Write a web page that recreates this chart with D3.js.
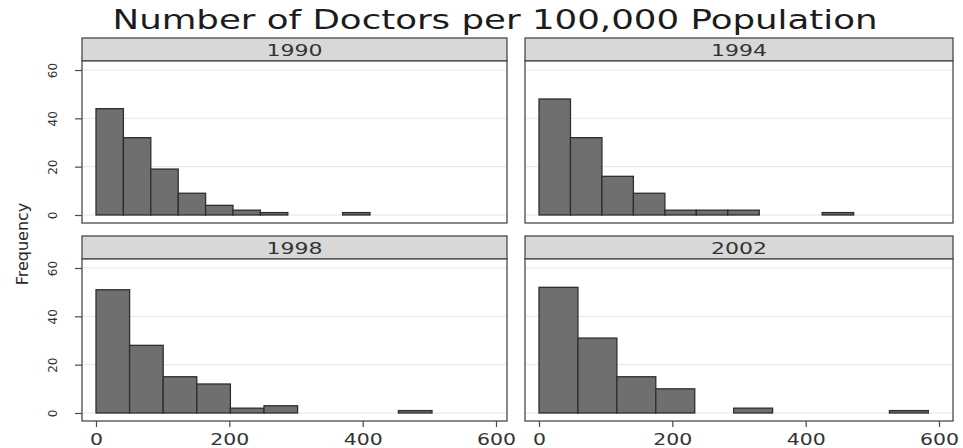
<!DOCTYPE html>
<html>
<head>
<meta charset="utf-8">
<script src="https://cdn.jsdelivr.net/npm/d3@7"></script>
<style>
  html, body { margin: 0; padding: 0; background: #fff; }
  svg { display: block; font-family: "DejaVu Sans", sans-serif; }
</style>
</head>
<body>
<svg id="chart" width="963" height="448"></svg>
<script>
// Panel titles (one histogram per survey year)
const years = ["1990", "1994", "1998", "2002"];
// Histogram bins: each year has ten equal-width bins starting at 0
const binStart = [0, 0, 0, 0];
const binWidth = [41.1, 47.2, 50.4, 58.4];
// Frequency in each bin
const counts1990 = [44, 32, 19, 9, 4, 2, 1, 0, 0, 1];
const counts1994 = [48, 32, 16, 9, 2, 2, 2, 0, 0, 1];
const counts1998 = [51, 28, 15, 12, 2, 3, 0, 0, 0, 1];
const counts2002 = [52, 31, 15, 10, 0, 2, 0, 0, 0, 1];
const counts = [counts1990, counts1994, counts1998, counts2002];
// Axis ticks
const xTicks = [0, 200, 400, 600];
const yTicks = [0, 20, 40, 60];
const titleText = "Number of Doctors per 100,000 Population";
const yLabel = "Frequency";

const svg = d3.select("#chart");

// Grid of panels
const cols = [{ left: 82, right: 507 }, { left: 525, right: 953 }];
const rows = [
  { stripTop: 38, plotTop: 61, plotBottom: 223 },
  { stripTop: 236, plotTop: 259, plotBottom: 421 }
];
const frameColor = "#4a4a4a";

svg.append("text")
  .attr("x", 495).attr("y", 29)
  .attr("text-anchor", "middle")
  .attr("font-size", 27)
  .attr("fill", "#1c1c1c")
  .attr("textLength", 765)
  .attr("lengthAdjust", "spacingAndGlyphs")
  .text(titleText);

svg.append("text")
  .attr("transform", "translate(28,244) rotate(-90)")
  .attr("text-anchor", "middle")
  .attr("font-size", 16)
  .attr("fill", "#2a2a2a")
  .text(yLabel);

years.forEach((year, k) => {
  const c = cols[k % 2], r = rows[Math.floor(k / 2)];
  const x = d3.scaleLinear().domain([0, 600]).range([c.left + 14, c.left + 414]);
  const y0 = r.plotBottom - 8;
  const y = d3.scaleLinear().domain([0, 60]).range([y0, y0 - 145]);
  const g = svg.append("g");

  // strip with year
  g.append("rect")
    .attr("x", c.left).attr("y", r.stripTop)
    .attr("width", c.right - c.left).attr("height", r.plotTop - r.stripTop)
    .attr("fill", "#d8d8d8").attr("stroke", frameColor).attr("stroke-width", 1.3);
  g.append("text")
    .attr("x", (c.left + c.right) / 2).attr("y", r.stripTop + 18)
    .attr("text-anchor", "middle").attr("font-size", 16).attr("fill", "#333")
    .attr("textLength", 56).attr("lengthAdjust", "spacingAndGlyphs")
    .text(year);

  // plot region
  g.append("rect")
    .attr("x", c.left).attr("y", r.plotTop)
    .attr("width", c.right - c.left).attr("height", r.plotBottom - r.plotTop)
    .attr("fill", "#fff");

  // horizontal grid
  g.selectAll("line.grid").data(yTicks).join("line")
    .attr("class", "grid")
    .attr("x1", c.left + 1).attr("x2", c.right - 1)
    .attr("y1", d => y(d)).attr("y2", d => y(d))
    .attr("stroke", "#e6e6e6").attr("stroke-width", 1);

  // histogram bars
  const bins = counts[k].map((n, i) => ({
    x0: binStart[k] + i * binWidth[k],
    x1: binStart[k] + (i + 1) * binWidth[k],
    n
  })).filter(b => b.n > 0);
  g.selectAll("rect.bar").data(bins).join("rect")
    .attr("class", "bar")
    .attr("x", b => x(b.x0)).attr("width", b => x(b.x1) - x(b.x0))
    .attr("y", b => y(b.n)).attr("height", b => y(0) - y(b.n))
    .attr("fill", "#6f6f6f").attr("stroke", "#2e2e2e").attr("stroke-width", 1.3);

  // frame
  g.append("rect")
    .attr("x", c.left).attr("y", r.plotTop)
    .attr("width", c.right - c.left).attr("height", r.plotBottom - r.plotTop)
    .attr("fill", "none").attr("stroke", frameColor).attr("stroke-width", 1.3);

  // y axis on the left column
  if (k % 2 === 0) {
    const ay = g.append("g")
      .attr("transform", `translate(${c.left},0)`)
      .call(d3.axisLeft(y).tickValues(yTicks).tickSize(7).tickSizeOuter(0));
    ay.select(".domain").remove();
    ay.selectAll(".tick line").attr("stroke", frameColor).attr("stroke-width", 1.2);
    ay.selectAll(".tick text")
      .attr("transform", "rotate(-90)")
      .attr("x", 0).attr("y", -25).attr("dy", 0)
      .attr("text-anchor", "middle")
      .attr("font-size", 12).attr("fill", "#333")
      .attr("font-family", "DejaVu Sans, sans-serif");
  }

  // x axis on the bottom row
  if (k >= 2) {
    const ax = g.append("g")
      .attr("transform", `translate(0,${r.plotBottom})`)
      .call(d3.axisBottom(x).tickValues(xTicks).tickSize(6).tickSizeOuter(0));
    ax.select(".domain").remove();
    ax.selectAll(".tick line").attr("stroke", frameColor).attr("stroke-width", 1.2);
    ax.selectAll(".tick text")
      .attr("y", 24).attr("dy", 0)
      .attr("font-size", 15).attr("fill", "#333")
      .attr("font-family", "DejaVu Sans, sans-serif")
      .each(function (d) {
        const s = String(d);
        d3.select(this).attr("textLength", s.length * 13)
          .attr("lengthAdjust", "spacingAndGlyphs");
      });
  }
});
</script>
</body>
</html>
